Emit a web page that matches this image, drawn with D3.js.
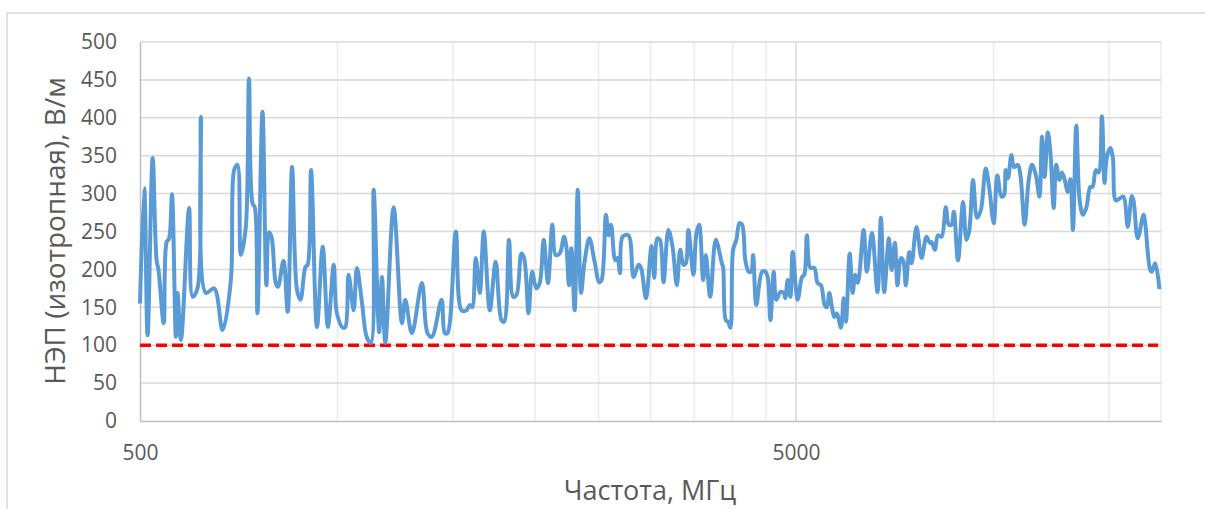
<!DOCTYPE html>
<html>
    <head>
        <meta charset="utf-8">
        <style>
            body { margin: 0; background: #fff; }
            text { font-family: "Open Sans", sans-serif; fill: #595959; }
        </style>
        <script src="https://d3js.org/d3.v7.min.js"></script>
    </head>
    <body>
        <svg id="chart" width="1205" height="509"></svg>
        <script>
            // Frequency, MHz
            const freqMHz = [
                500, 507.5, 513.5, 522.7, 530, 533.6, 543.3, 548.9, 553.8, 559.3,
                567.1, 570.4, 577.3, 594, 601.4, 611.8, 619.2, 630, 648.7, 668.1,
                687.8, 695.8, 703.9, 712.4, 724.8, 733, 742.2, 748.1, 755, 768.6,
                779.3, 786.2, 793.3, 805.2, 811.5, 827.3, 839.6, 852.7, 867.5, 878.2,
                893.5, 900.6, 911.4, 930.5, 949.5, 967, 986.8, 998, 1019.5, 1028,
                1039.7, 1058.4, 1070.5, 1089.8, 1108.7, 1124.7, 1135.3, 1157.6, 1168.9, 1182.7,
                1217.7, 1253.8, 1268.6, 1298.5, 1344.8, 1371.5, 1392.8, 1440.9, 1457.5, 1471.1,
                1514.7, 1545.5, 1572.5, 1591.2, 1604.6, 1624.6, 1648, 1671.1, 1706.8, 1742.6,
                1778.1, 1794.9, 1825.8, 1852.5, 1873.7, 1907.2, 1925.2, 1955.7, 1980.1, 2009.8,
                2033.7, 2062.2, 2093.5, 2126, 2150.5, 2181.4, 2215, 2232.6, 2253.1, 2272.5,
                2298.7, 2324, 2351.2, 2378.3, 2420.6, 2463.2, 2506.9, 2527.2, 2565.8, 2588.7,
                2611.9, 2651.1, 2671.9, 2695.7, 2720.2, 2776.6, 2826.9, 2875.6, 2901.5, 2952,
                3011.2, 3039.6, 3074, 3101.3, 3140.3, 3194.5, 3241.1, 3290.5, 3329.9, 3368.3,
                3396.2, 3426.4, 3488.5, 3524.6, 3559.2, 3609, 3642.9, 3699, 3772.8, 3853.9,
                3871.1, 3907.3, 3938.3, 3971.9, 4009.1, 4055, 4099.3, 4137.8, 4185.3, 4234,
                4270.6, 4300.3, 4349.4, 4438.3, 4489.2, 4526.1, 4569.7, 4623.9, 4665.3, 4732.7,
                4788.8, 4815.2, 4854.8, 4901.5, 4942.5, 5027.9, 5106.2, 5147.1, 5195.1, 5257.4,
                5330.7, 5393, 5458, 5528.5, 5572.3, 5619.5, 5672.3, 5717.8, 5771.1, 5854.3,
                5909.5, 5956.6, 6036, 6099.2, 6154, 6211.2, 6338.6, 6411, 6526, 6655.1,
                6735.3, 6812.9, 6927.1, 6992.9, 7073.2, 7138.4, 7224.4, 7282.5, 7350.7, 7438.2,
                7500.7, 7630.7, 7768.2, 7902.9, 7997.5, 8045.3, 8137.7, 8229.4, 8332.3, 8456.9,
                8548.3, 8629.5, 8698.8, 8827, 8986.9, 9092.2, 9179.1, 9307.4, 9435.9, 9562.5,
                9729.6, 9845.6, 10007.9, 10134.8, 10282.4, 10375, 10436.2, 10517.7, 10649.1, 10745.1,
                10892.8, 10990.8, 11155.7, 11314.9, 11446.2, 11604.6, 11747.8, 11854.4, 11965.8, 12100.5,
                12209.3, 12350.1, 12464.2, 12600.8, 12715.2, 12864.8, 12966.6, 13095.9, 13214.4, 13369.3,
                13529.3, 13685.7, 13846.1, 14046.8, 14158.5, 14320.5, 14461.1, 14628.8, 14766.2, 14882,
                15066.8, 15203.1, 15360.3, 15604.2, 15784.1, 16016.8, 16250.7, 16347.1, 16588.1, 16930.2,
                17028.4, 17334.3, 17430.8, 17635.8, 17900
            ];

            // НЭП (изотропная), В/м
            const nepValues = [
                155, 307, 113, 347, 212, 199, 129, 236, 241, 299,
                111, 169, 107, 281, 164, 175, 401, 169, 175, 120,
                186, 331, 338, 219, 256, 452, 287, 282, 142, 408,
                179, 249, 243, 182, 177, 211, 144, 335, 173, 160,
                203, 206, 331, 124, 230, 124, 206, 142, 123, 124,
                193, 146, 202, 156, 110, 103, 305, 117, 190, 103,
                282, 129, 160, 116, 182, 116, 111, 160, 116, 116,
                250, 146, 146, 153, 150, 215, 169, 250, 146, 210,
                133, 131, 239, 164, 166, 221, 215, 142, 197, 175,
                182, 239, 182, 259, 219, 221, 243, 230, 179, 228,
                146, 305, 169, 208, 241, 212, 183, 186, 272, 245,
                259, 212, 215, 195, 243, 245, 190, 206, 202, 162,
                231, 189, 241, 239, 183, 252, 230, 179, 226, 206,
                208, 252, 193, 248, 259, 186, 219, 164, 239, 208,
                203, 133, 131, 123, 226, 239, 261, 259, 212, 197,
                197, 219, 153, 197, 197, 190, 133, 197, 160, 170,
                169, 162, 186, 164, 223, 160, 190, 193, 245, 202,
                202, 182, 179, 153, 150, 169, 150, 137, 142, 123,
                162, 131, 221, 169, 193, 182, 252, 197, 248, 170,
                268, 170, 241, 199, 235, 179, 215, 212, 179, 223,
                208, 256, 215, 243, 235, 236, 226, 245, 243, 282,
                259, 259, 276, 212, 289, 239, 250, 318, 268, 278,
                333, 309, 261, 324, 296, 298, 331, 320, 351, 335,
                338, 324, 259, 318, 338, 324, 296, 375, 322, 381,
                355, 281, 338, 318, 328, 315, 302, 319, 252, 390,
                291, 272, 281, 309, 309, 331, 328, 402, 314, 348,
                360, 347, 291, 294, 296, 256, 297, 291, 241, 272,
                261, 199, 197, 208, 174
            ];

            const limitValue = 100;
            const yTicks = [0, 50, 100, 150, 200, 250, 300, 350, 400, 450, 500];
            const xTickLabels = [500, 5000];
            const xMajorGrid = [5000];
            const xMinorGrid = [1000, 1500, 2000, 2500, 3000, 3500, 4000, 4500, 10000, 15000, 18000];

            const svg = d3.select('#chart');
            const plotLeft = 140, plotRight = 1161, plotTop = 42, plotBottom = 421;

            const xScale = d3.scaleLog().domain([500, 18000]).range([plotLeft, plotRight]);
            const yScale = d3.scaleLinear().domain([0, 500]).range([plotBottom, plotTop]);

            // chart area border
            svg.append('rect')
                .attr('x', 7).attr('y', 13)
                .attr('width', 1220).attr('height', 520)
                .attr('fill', 'none')
                .attr('stroke', '#d9d9d9')
                .attr('stroke-width', 1.5);

            // vertical grid
            svg.append('g').selectAll('line')
                .data(xMinorGrid)
                .enter().append('line')
                .attr('x1', d => xScale(d)).attr('x2', d => xScale(d))
                .attr('y1', plotTop).attr('y2', plotBottom)
                .attr('stroke', '#ececec').attr('stroke-width', 1.5);

            svg.append('g').selectAll('line')
                .data(xMajorGrid)
                .enter().append('line')
                .attr('x1', d => xScale(d)).attr('x2', d => xScale(d))
                .attr('y1', plotTop).attr('y2', plotBottom)
                .attr('stroke', '#d9d9d9').attr('stroke-width', 1.5);

            // horizontal grid
            svg.append('g').selectAll('line')
                .data(yTicks.filter(d => d > 0))
                .enter().append('line')
                .attr('x1', plotLeft).attr('x2', plotRight)
                .attr('y1', d => yScale(d)).attr('y2', d => yScale(d))
                .attr('stroke', '#d9d9d9').attr('stroke-width', 1.5);

            // axes
            const yAxis = svg.append('g')
                .attr('transform', `translate(${plotLeft}, 0)`)
                .call(d3.axisLeft(yScale).tickValues(yTicks).tickSize(0).tickPadding(23));
            yAxis.select('.domain').attr('stroke', '#bfbfbf').attr('stroke-width', 1.5);
            yAxis.selectAll('text').style('font-size', '21px').attr('fill', '#595959');

            const xAxis = svg.append('g')
                .attr('transform', `translate(0, ${plotBottom})`)
                .call(d3.axisBottom(xScale).tickValues(xTickLabels).tickFormat(d3.format('d')).tickSize(0).tickPadding(24));
            xAxis.select('.domain').attr('stroke', '#bfbfbf').attr('stroke-width', 1.5);
            xAxis.selectAll('text').style('font-size', '21px').attr('fill', '#595959');

            // limit line
            svg.append('line')
                .attr('x1', xScale(500)).attr('x2', xScale(18000) - 3)
                .attr('y1', yScale(limitValue)).attr('y2', yScale(limitValue))
                .attr('stroke', '#ff0000')
                .attr('stroke-width', 3.5)
                .attr('stroke-dasharray', '11,5');

            // measured series
            const series = freqMHz.map((f, i) => ({f: f, v: nepValues[i]}));
            const line = d3.line()
                .x(d => xScale(d.f))
                .y(d => yScale(d.v))
                .curve(d3.curveCatmullRom.alpha(0.5));

            svg.append('path')
                .datum(series)
                .attr('d', line)
                .attr('fill', 'none')
                .attr('stroke', '#5b9bd5')
                .attr('stroke-width', 4)
                .attr('stroke-linejoin', 'round');

            // axis titles
            svg.append('text')
                .attr('transform', 'translate(65, 231) rotate(-90)')
                .style('text-anchor', 'middle')
                .style('font-size', '28px')
                .text('НЭП (изотропная), В/м');

            svg.append('text')
                .attr('x', 650).attr('y', 500)
                .style('text-anchor', 'middle')
                .style('font-size', '27px')
                .text('Частота, МГц');
        </script>
    </body>
</html>
